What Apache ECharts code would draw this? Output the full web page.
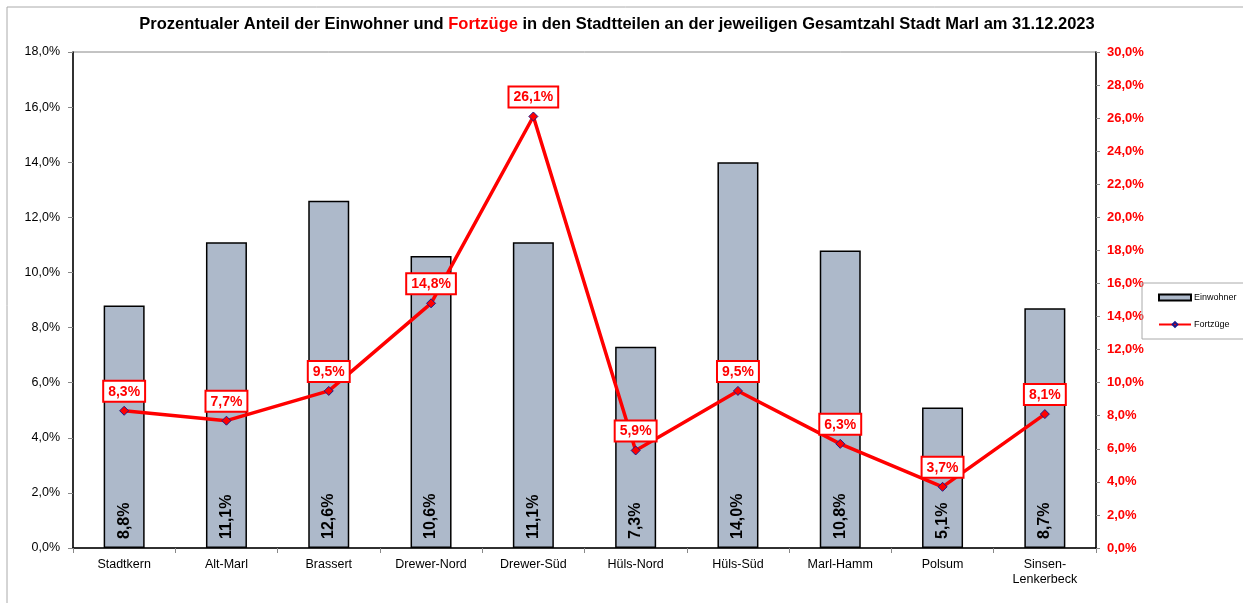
<!DOCTYPE html>
<html>
<head>
<meta charset="utf-8">
<title>Einwohner und Fortzüge Marl</title>
<script src="https://cdn.jsdelivr.net/npm/echarts@6/dist/echarts.min.js"></script>
<style>
html, body { margin: 0; padding: 0; background: #fff; }
#main { width: 1243px; height: 603px; }
</style>
</head>
<body>
<div id="main"></div>
<script>
// Stadtteile
var categories = ['Stadtkern', 'Alt-Marl', 'Brassert', 'Drewer-Nord', 'Drewer-Süd',
  'Hüls-Nord', 'Hüls-Süd', 'Marl-Hamm', 'Polsum', 'Sinsen-\nLenkerbeck'];
// Anteil Einwohner in %
var einwohner = [8.8, 11.1, 12.6, 10.6, 11.1, 7.3, 14.0, 10.8, 5.1, 8.7];
// Anteil Fortzüge in %
var fortzuege = [8.3, 7.7, 9.5, 14.8, 26.1, 5.9, 9.5, 6.3, 3.7, 8.1];

function pct(v) {
  return Number(v).toFixed(1).replace('.', ',') + '%';
}

var font = 'Liberation Sans, Arial, sans-serif';
var chart = echarts.init(document.getElementById('main'));

chart.setOption({
  animation: false,
  textStyle: { fontFamily: font },
  graphic: [{
    type: 'rect',
    shape: { x: 7, y: 7, width: 1260, height: 620 },
    style: { fill: 'none', stroke: '#aaaaaa', lineWidth: 1 },
    silent: true
  }],
  title: {
    text: 'Prozentualer Anteil der Einwohner und {r|Fortzüge} in den Stadtteilen an der jeweiligen Gesamtzahl Stadt Marl am 31.12.2023',
    left: 612,
    textAlign: 'center',
    top: 11,
    textStyle: {
      fontFamily: font,
      fontSize: 16.5,
      fontWeight: 'bold',
      color: '#000',
      rich: {
        r: { fontFamily: font, fontSize: 16.5, fontWeight: 'bold', color: '#ff0000' }
      }
    }
  },
  legend: {
    orient: 'vertical',
    left: 1142,
    top: 283,
    padding: [10, 8, 10, 16],
    itemGap: 18,
    itemWidth: 32,
    itemHeight: 6,
    borderColor: '#aaaaaa',
    borderWidth: 1,
    textStyle: { fontFamily: font, fontSize: 9, color: '#000', padding: [0, 0, 0, -2] },
    data: [
      { name: 'Einwohner', icon: 'rect' },
      { name: 'Fortzüge' }
    ]
  },
  grid: {
    left: 73, right: 147, top: 52, bottom: 55,
    show: true, borderColor: '#888', borderWidth: 1, backgroundColor: 'transparent'
  },
  xAxis: {
    type: 'category',
    data: categories,
    axisLine: { lineStyle: { color: '#000', width: 1.5 } },
    axisTick: { show: true, alignWithLabel: false, length: 5, lineStyle: { color: '#888' } },
    axisLabel: { color: '#000', fontSize: 12.5, fontFamily: font, margin: 9, lineHeight: 15, interval: 0 }
  },
  yAxis: [{
    type: 'value',
    min: 0, max: 18, interval: 2,
    axisLine: { show: true, lineStyle: { color: '#000', width: 1.5 } },
    axisTick: { show: true, length: 5, lineStyle: { color: '#888' } },
    splitLine: { show: false },
    axisLabel: { color: '#000', fontSize: 12.5, fontFamily: font, margin: 13, formatter: pct }
  }, {
    type: 'value',
    min: 0, max: 30, interval: 2,
    position: 'right',
    axisLine: { show: true, lineStyle: { color: '#000', width: 1.5 } },
    axisTick: { show: true, length: 4, lineStyle: { color: '#888' } },
    splitLine: { show: false },
    axisLabel: { color: '#ff0000', fontSize: 13, fontWeight: 'bold', fontFamily: font, margin: 11, formatter: pct }
  }],
  series: [{
    name: 'Einwohner',
    type: 'bar',
    data: einwohner,
    barWidth: 41,
    itemStyle: { color: '#adb9ca', borderColor: '#000', borderWidth: 1.5 },
    label: {
      show: true,
      position: 'insideBottom',
      rotate: 90,
      align: 'left',
      verticalAlign: 'middle',
      distance: 9,
      color: '#000',
      fontSize: 16,
      fontWeight: 'bold',
      fontFamily: font,
      formatter: function (p) { return pct(p.value); }
    },
    z: 2
  }, {
    name: 'Fortzüge',
    type: 'line',
    yAxisIndex: 1,
    data: fortzuege,
    symbol: 'diamond',
    symbolSize: 9,
    lineStyle: { color: '#ff0000', width: 3.5 },
    itemStyle: { color: '#ff0000', borderColor: '#1a1a8c', borderWidth: 1 },
    label: {
      show: true,
      position: 'top',
      distance: 5,
      color: '#ff0000',
      fontSize: 14,
      fontWeight: 'bold',
      fontFamily: font,
      backgroundColor: '#fff',
      borderColor: '#ff0000',
      borderWidth: 2,
      padding: [3, 4, 2, 4],
      formatter: function (p) { return pct(p.value); }
    },
    z: 3
  }]
});
</script>
</body>
</html>
